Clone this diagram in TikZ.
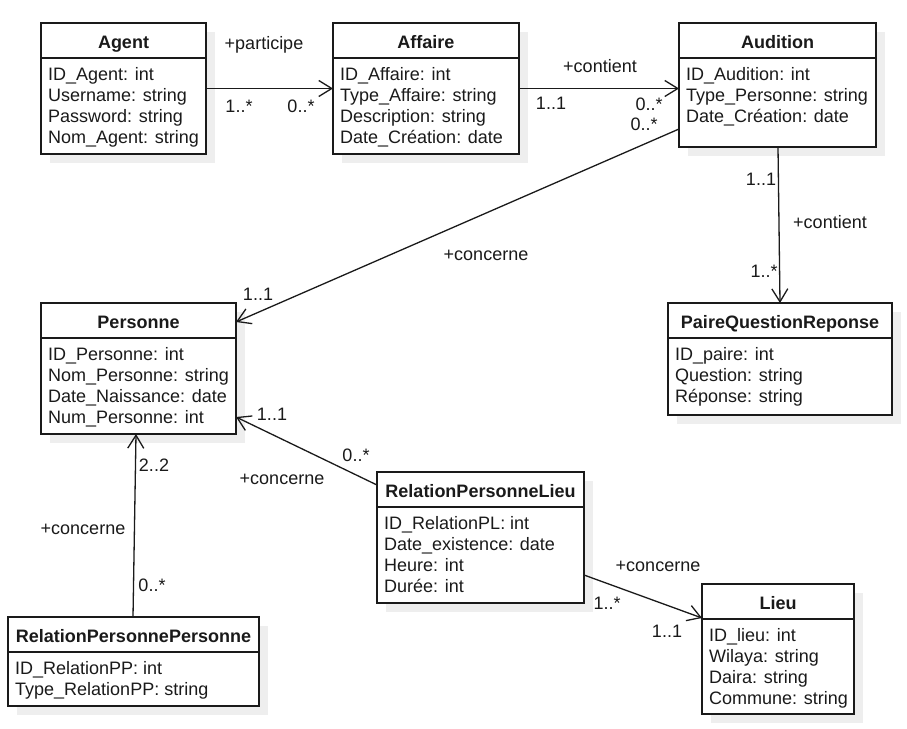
\documentclass[tikz,border=0pt]{standalone}
\usepackage{fontspec}
\setmainfont{Liberation Sans}
\usetikzlibrary{calc,arrows.meta}
\definecolor{shadowc}{HTML}{EEEEEE}
\definecolor{inkc}{HTML}{1A1A1A}
\tikzset{
  classbox/.style={draw=inkc, line width=1.3pt, fill=white, rectangle, anchor=north west, inner sep=0pt, outer sep=0pt},
  classtitle/.style={font=\fontsize{18}{21}\selectfont\bfseries, text=inkc, anchor=base, inner sep=0pt},
  attrtext/.style={font=\fontsize{18}{21}\selectfont, text=inkc, anchor=base west, inner sep=0pt},
  mult/.style={font=\fontsize{18}{21}\selectfont, text=inkc, inner sep=0pt},
  assoc/.style={draw=inkc, line width=1.3pt, -{Straight Barb[length=13pt,width=16pt]}},
  sepline/.style={draw=inkc, line width=1.3pt},
}
% #1 name, #2 left, #3 top, #4 right, #5 bottom, #6 title, #7 attributes
\newcommand\umlclass[7]{%
  \fill[shadowc] (#2+9,#3+9) rectangle (#4+9,#5+9);
  \node[classbox, minimum width={(#4-#2)*1pt}, minimum height={(#5-#3)*1pt}] (#1) at (#2,#3) {};
  \draw[sepline] ($(#1.north west)+(0,35)$) -- ($(#1.north east)+(0,35)$);
  \node[classtitle] (#1t) at ($(#1.north)+(0,25.5)$) {#6};
  \foreach \a [count=\i] in {#7} {
    \node[attrtext] (#1a\i) at ($(#1.north west)+(7,{36+21*\i})$) {\a};
  }
}
\begin{document}
\begin{tikzpicture}[x=1pt,y=-1pt]
\useasboundingbox[fill=white] (0,0) rectangle (907,728);

\umlclass{agent}{41}{23}{206}{154}{Agent}{ID\_Agent: int,Username: string,Password: string,Nom\_Agent: string}
\umlclass{affaire}{333}{23}{519}{154}{Affaire}{ID\_Affaire: int,Type\_Affaire: string,Description: string,Date\_Création: date}
\umlclass{audition}{679}{23}{876}{147}{Audition}{ID\_Audition: int,Type\_Personne: string,Date\_Création: date}
\umlclass{personne}{41}{303}{236}{434}{Personne}{ID\_Personne: int,Nom\_Personne: string,Date\_Naissance: date,Num\_Personne: int}
\umlclass{pqr}{668}{303}{892}{415}{PaireQuestionReponse}{ID\_paire: int,Question: string,Réponse: string}
\umlclass{rpl}{377}{472}{584}{603}{RelationPersonneLieu}{ID\_RelationPL: int,Date\_existence: date,Heure: int,Durée: int}
\umlclass{lieu}{702}{584}{854}{714}{Lieu}{ID\_lieu: int,Wilaya: string,Daira: string,Commune: string}
\umlclass{rpp}{8}{617}{259}{706}{RelationPersonnePersonne}{ID\_RelationPP: int,Type\_RelationPP: string}

% connectors
\draw[assoc] (agent.east) -- (agent.east -| affaire.west);
\draw[assoc] (affaire.east) -- (affaire.east -| audition.west);
\draw[assoc] ($(audition.north west)+(0,106)$) -- ($(personne.north east)+(0,19)$);
\draw[assoc] ($(audition.south west)+(99,0)$) -- ($(pqr.north west)+(112,0)$);
\draw[assoc] ($(rpl.north west)+(0,13)$) -- ($(personne.north east)+(0,114)$);
\draw[assoc] ($(rpp.north west)+(125,0)$) -- ($(personne.south west)+(95,0)$);
\draw[assoc] ($(rpl.north east)+(0,103)$) -- ($(lieu.north west)+(0,34)$);

% labels
\node[mult] (l1) at (264,45) {+participe};
\node[mult] (l2) at (239,106) {1..*};
\node[mult] (l3) at (301,106) {0..*};
\node[mult] (l4) at (600,66) {+contient};
\node[mult] (l5) at (551,103) {1..1};
\node[mult] (l6) at (649,104) {0..*};
\node[mult] (l7) at (644,124) {0..*};
\node[mult] (l8) at (486,255) {+concerne};
\node[mult] (l9) at (258,294) {1..1};
\node[mult] (l10) at (761,179) {1..1};
\node[mult] (l11) at (830,222) {+contient};
\node[mult] (l12) at (764,271) {1..*};
\node[mult] (l13) at (272,414) {1..1};
\node[mult] (l14) at (356,455) {0..*};
\node[mult] (l15) at (282,479) {+concerne};
\node[mult] (l16) at (154,465) {2..2};
\node[mult] (l17) at (83,529) {+concerne};
\node[mult] (l18) at (152,585) {0..*};
\node[mult] (l19) at (658,566) {+concerne};
\node[mult] (l20) at (607,603) {1..*};
\node[mult] (l21) at (667,631) {1..1};
\end{tikzpicture}
\end{document}
